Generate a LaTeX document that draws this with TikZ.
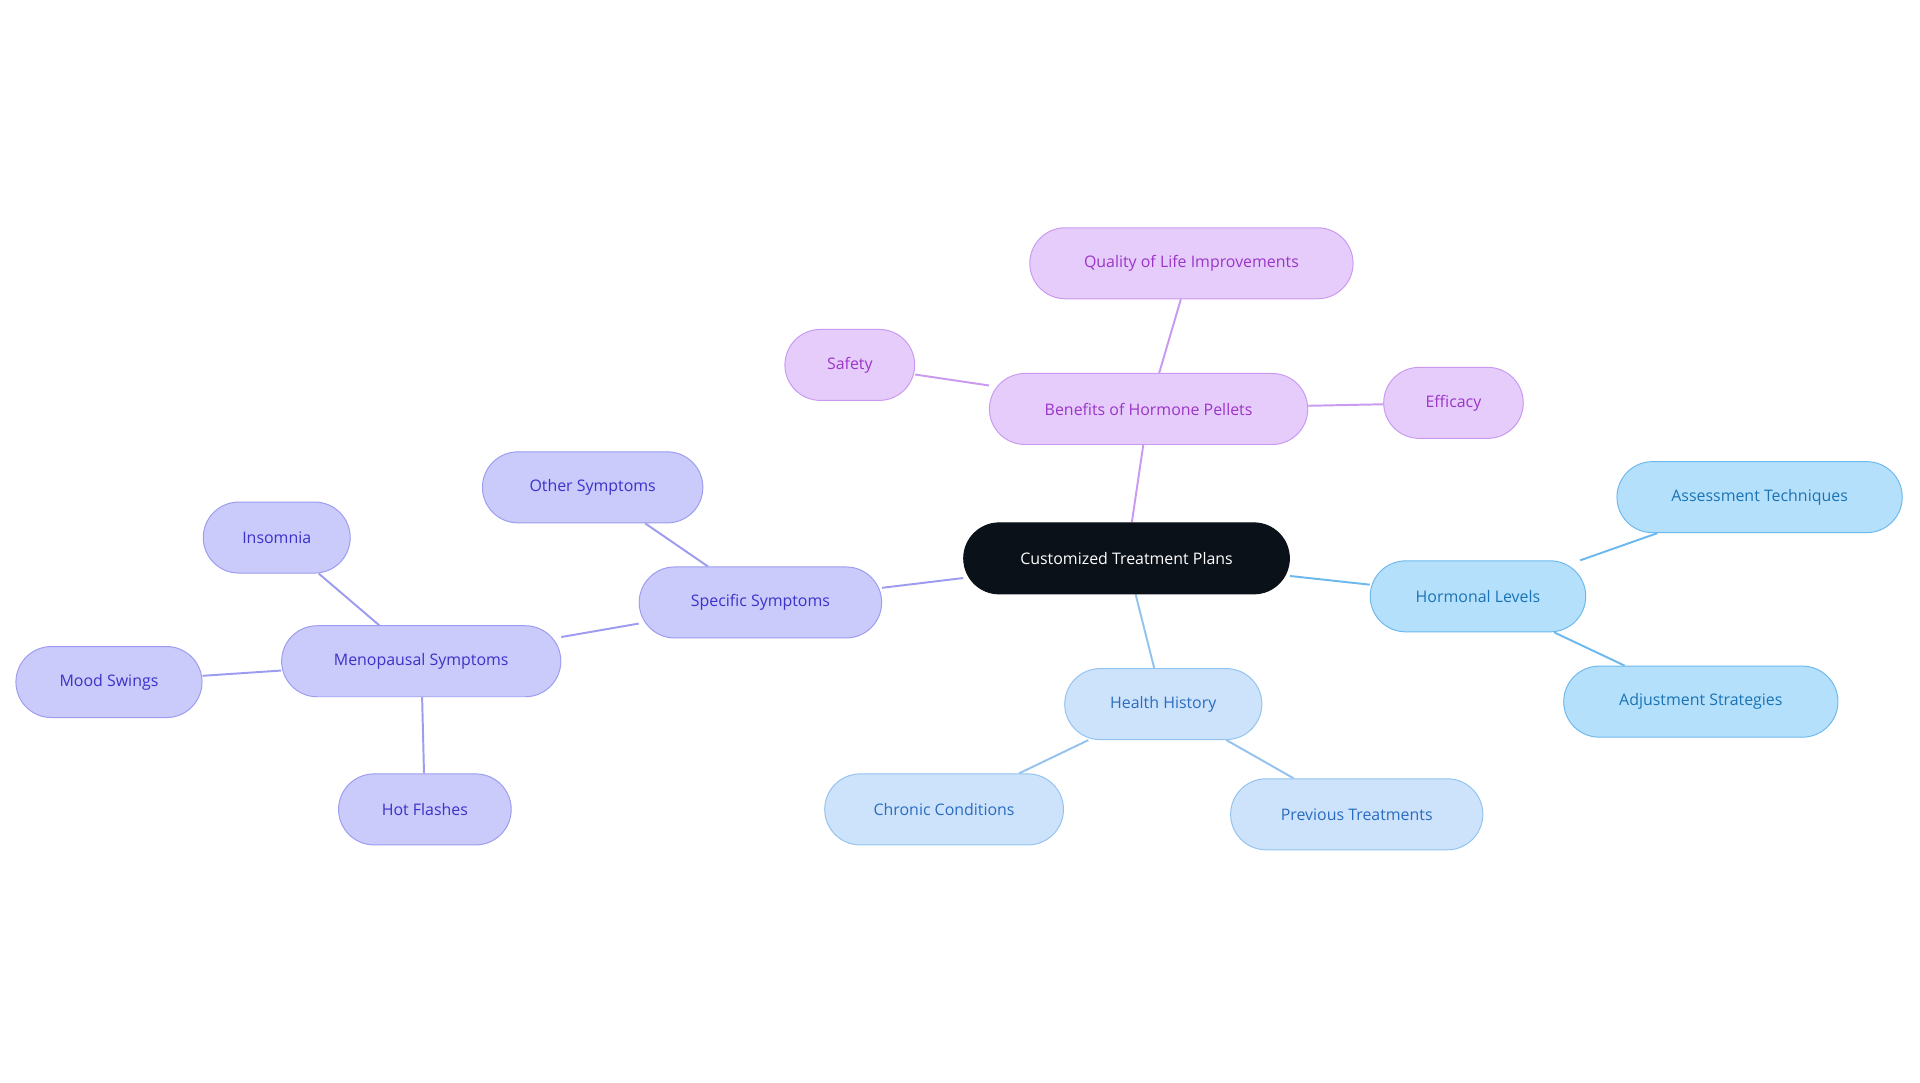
\documentclass[tikz,border=0pt]{standalone}
\usepackage{fontspec}
\setmainfont{Open Sans}
\usetikzlibrary{backgrounds}
\definecolor{pf}{HTML}{E6CCFB}\definecolor{pb}{HTML}{C99AF0}\definecolor{pt}{HTML}{9A35C8}
\definecolor{vf}{HTML}{CACAFB}\definecolor{vb}{HTML}{9D9CF0}\definecolor{vt}{HTML}{3B32C8}
\definecolor{bf}{HTML}{B5E0FB}\definecolor{bb}{HTML}{6DB9EE}\definecolor{bt}{HTML}{1A73B4}
\definecolor{hf}{HTML}{CDE3FB}\definecolor{hb}{HTML}{94C3EF}\definecolor{ht}{HTML}{2A6CC0}
\definecolor{cf}{HTML}{0B1119}
\tikzset{
 box/.style={rounded corners=29pt,minimum height=58pt,inner xsep=0pt,font=\fontsize{13}{15}\selectfont,line width=0.8pt},
 cen/.style={box,fill=cf,draw=cf,text=white},
 pu/.style={box,fill=pf,draw=pb,text=pt},
 vi/.style={box,fill=vf,draw=vb,text=vt},
 bl/.style={box,fill=bf,draw=bb,text=bt},
 he/.style={box,fill=hf,draw=hb,text=ht},
 ed/.style={line width=1.6pt}
}
\begin{document}
\begin{tikzpicture}[x=1pt,y=-1pt]
\useasboundingbox (0,0) rectangle (1568,884);
\node[cen,minimum width=266pt] (c) at (920,456) {Customized Treatment Plans};
\node[pu,minimum width=260pt] (ben) at (938,334) {Benefits of Hormone Pellets};
\node[pu,minimum width=264pt] (qol) at (973,215) {Quality of Life Improvements};
\node[pu,minimum width=106pt] (saf) at (694,298) {Safety};
\node[pu,minimum width=114pt] (eff) at (1187,329) {Efficacy};
\node[vi,minimum width=198pt] (spec) at (621,492) {Specific Symptoms};
\node[vi,minimum width=180pt] (oth) at (484,398) {Other Symptoms};
\node[vi,minimum width=228pt] (meno) at (344,540) {Menopausal Symptoms};
\node[vi,minimum width=120pt] (ins) at (226,439) {Insomnia};
\node[vi,minimum width=152pt] (mood) at (89,557) {Mood Swings};
\node[vi,minimum width=141pt] (hot) at (347,661) {Hot Flashes};
\node[bl,minimum width=176pt] (hor) at (1207,487) {Hormonal Levels};
\node[bl,minimum width=233pt] (ass) at (1437,406) {Assessment Techniques};
\node[bl,minimum width=224pt] (adj) at (1389,573) {Adjustment Strategies};
\node[he,minimum width=161pt] (hh) at (950,575) {Health History};
\node[he,minimum width=195pt] (chr) at (771,661) {Chronic Conditions};
\node[he,minimum width=206pt] (prev) at (1108,665) {Previous Treatments};
\begin{scope}[on background layer]
\draw[ed,pb] (c)--(ben) (ben)--(qol) (ben)--(saf) (ben)--(eff);
\draw[ed,vb] (c)--(spec) (spec)--(oth) (spec)--(meno) (meno)--(ins) (meno)--(mood) (meno)--(hot);
\draw[ed,bb] (c)--(hor) (hor)--(ass) (hor)--(adj);
\draw[ed,hb] (c)--(hh) (hh)--(chr) (hh)--(prev);
\end{scope}
\end{tikzpicture}
\end{document}
